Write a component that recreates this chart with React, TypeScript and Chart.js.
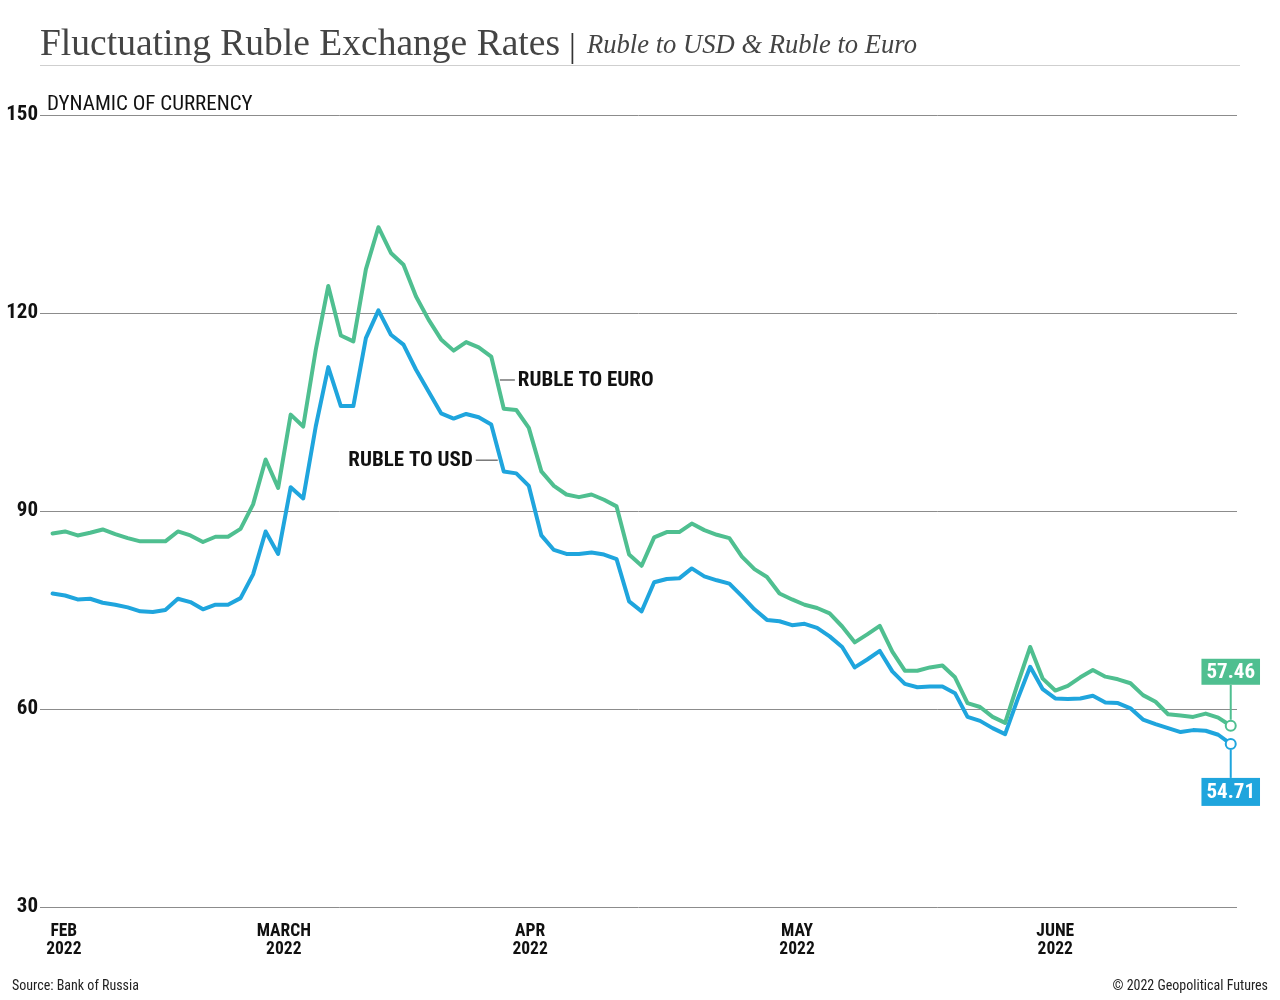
import React, { useEffect, useRef } from 'react';
import { Chart, registerables } from 'chart.js';
Chart.register(...registerables);

// Ruble per Euro (trading days, Feb 2022 -> late June 2022)
const rubleToEuro: number[] = [
  86.6, 86.9, 86.3, 86.7, 87.2, 86.5, 85.9, 85.4, 85.4, 85.4,
  86.9, 86.3, 85.3, 86.1, 86.1, 87.3, 91.0, 97.8, 93.5, 104.6,
  102.8, 114.4, 124.1, 116.6, 115.7, 126.6, 133.0, 129.1, 127.3, 122.5,
  119.0, 116.0, 114.3, 115.6, 114.8, 113.4, 105.5, 105.3, 102.6, 96.0,
  93.8, 92.5, 92.1, 92.5, 91.7, 90.7, 83.4, 81.7, 86.0, 86.8,
  86.8, 88.1, 87.1, 86.4, 85.9, 83.1, 81.2, 80.0, 77.5, 76.6,
  75.8, 75.3, 74.5, 72.5, 70.1, 71.3, 72.6, 68.7, 65.8, 65.8,
  66.3, 66.6, 64.8, 60.9, 60.3, 58.8, 57.9, 63.8, 69.4, 64.6,
  62.8, 63.5, 64.8, 65.9, 64.9, 64.5, 63.9, 62.1, 61.1, 59.2,
  59.0, 58.8, 59.3, 58.7, 57.46,
];

// Ruble per USD
const rubleToUsd: number[] = [
  77.5, 77.2, 76.6, 76.7, 76.1, 75.8, 75.4, 74.8, 74.7, 75.0,
  76.7, 76.2, 75.1, 75.8, 75.8, 76.8, 80.4, 86.9, 83.5, 93.6,
  91.9, 102.8, 111.8, 105.9, 105.9, 116.2, 120.4, 116.7, 115.2, 111.4,
  108.1, 104.8, 104.0, 104.7, 104.2, 103.1, 96.0, 95.7, 93.8, 86.3,
  84.1, 83.5, 83.5, 83.7, 83.4, 82.7, 76.3, 74.8, 79.2, 79.7,
  79.8, 81.3, 80.1, 79.5, 79.0, 77.1, 75.1, 73.5, 73.3, 72.7,
  72.9, 72.3, 71.0, 69.4, 66.3, 67.5, 68.8, 65.7, 63.8, 63.3,
  63.4, 63.4, 62.4, 58.8, 58.2, 57.1, 56.2, 61.5, 66.4, 63.0,
  61.6, 61.5, 61.6, 62.0, 61.0, 60.9, 60.1, 58.4, 57.7, 57.1,
  56.5, 56.8, 56.7, 56.1, 54.71,
];

// Month tick positions (in trading-day index units) and labels
const monthTickIndex: number[] = [0.9, 18.45, 38.1, 59.4, 80.0];
const monthTickLabels: string[][] = [
  ['FEB', '2022'],
  ['MARCH', '2022'],
  ['APR', '2022'],
  ['MAY', '2022'],
  ['JUNE', '2022'],
];
const yTickValues: number[] = [30, 60, 90, 120, 150];

const GREEN = '#4fbf90';
const BLUE = '#1fa5dd';
const COND = "'Roboto Condensed', 'Liberation Sans Narrow', 'DejaVu Sans Condensed', 'Arial Narrow', Roboto, sans-serif";
const SERIF = "'Liberation Serif', 'DejaVu Serif', serif";

const decorPlugin = {
  id: 'decor',
  afterDatasetsDraw(chart: any) {
    const ctx: CanvasRenderingContext2D = chart.ctx;
    const xs = chart.scales.x;
    const ys = chart.scales.y;
    ctx.save();

    // series labels with leader lines
    ctx.strokeStyle = '#555';
    ctx.lineWidth = 1.2;
    ctx.fillStyle = '#111';
    ctx.font = `bold 21px ${COND}`;
    ctx.textBaseline = 'middle';

    const ex = xs.getPixelForValue(35.45);
    const ey = ys.getPixelForValue(109.85);
    ctx.beginPath();
    ctx.moveTo(ex + 3, ey);
    ctx.lineTo(ex + 18, ey);
    ctx.stroke();
    ctx.textAlign = 'left';
    ctx.fillText('RUBLE TO EURO', ex + 21, ey + 1);

    const ux = xs.getPixelForValue(35.76);
    const uy = ys.getPixelForValue(97.7);
    ctx.beginPath();
    ctx.moveTo(ux - 3, uy);
    ctx.lineTo(ux - 25, uy);
    ctx.stroke();
    ctx.textAlign = 'right';
    ctx.fillText('RUBLE TO USD', ux - 28, uy + 1);

    // end value callouts
    const last = rubleToEuro.length - 1;
    const lx = xs.getPixelForValue(last);
    const gy = ys.getPixelForValue(rubleToEuro[last]);
    const by = ys.getPixelForValue(rubleToUsd[last]);
    ctx.font = `bold 21px ${COND}`;
    ctx.textAlign = 'center';
    ctx.textBaseline = 'middle';
    ctx.lineWidth = 2;

    // green (above)
    const gText = rubleToEuro[last].toFixed(2);
    const gW = ctx.measureText(gText).width + 10;
    ctx.strokeStyle = GREEN;
    ctx.beginPath();
    ctx.moveTo(lx, gy - 6);
    ctx.lineTo(lx, gy - 41);
    ctx.stroke();
    ctx.fillStyle = GREEN;
    ctx.fillRect(lx - gW / 2, gy - 41 - 26, gW, 26);
    ctx.fillStyle = '#fff';
    ctx.fillText(gText, lx, gy - 41 - 12);

    // blue (below)
    const bText = rubleToUsd[last].toFixed(2);
    const bW = ctx.measureText(bText).width + 10;
    ctx.strokeStyle = BLUE;
    ctx.beginPath();
    ctx.moveTo(lx, by + 6);
    ctx.lineTo(lx, by + 34);
    ctx.stroke();
    ctx.fillStyle = BLUE;
    ctx.fillRect(lx - bW / 2, by + 34, bW, 28);
    ctx.fillStyle = '#fff';
    ctx.fillText(bText, lx, by + 34 + 15);

    ctx.restore();
  },
  afterDraw(chart: any) {
    const ctx: CanvasRenderingContext2D = chart.ctx;
    ctx.save();
    // title
    ctx.textBaseline = 'alphabetic';
    ctx.textAlign = 'left';
    ctx.fillStyle = '#444';
    const title = 'Fluctuating Ruble Exchange Rates';
    ctx.font = `37px ${SERIF}`;
    const tw = ctx.measureText(title).width;
    ctx.save();
    ctx.translate(40, 55);
    ctx.scale(520 / tw, 1);
    ctx.fillText(title, 0, 0);
    ctx.restore();
    ctx.fillStyle = '#333';
    ctx.font = `34px ${SERIF}`;
    ctx.fillText('|', 569, 57);
    ctx.fillStyle = '#444';
    const sub = 'Ruble to USD & Ruble to Euro';
    ctx.font = `italic 28px ${SERIF}`;
    const sw = ctx.measureText(sub).width;
    ctx.save();
    ctx.translate(587, 53);
    ctx.scale(330 / sw, 1);
    ctx.fillText(sub, 0, 0);
    ctx.restore();

    // rule under title
    ctx.strokeStyle = '#cfcfcf';
    ctx.lineWidth = 1;
    ctx.beginPath();
    ctx.moveTo(40, 65.5);
    ctx.lineTo(1240, 65.5);
    ctx.stroke();

    // axis caption
    ctx.fillStyle = '#111';
    ctx.font = `21px ${COND}`;
    ctx.fillText('DYNAMIC OF CURRENCY', 47, 110);

    // footer
    ctx.font = `14px ${COND}`;
    ctx.fillStyle = '#222';
    ctx.fillText('Source: Bank of Russia', 12, 990);
    ctx.textAlign = 'right';
    ctx.fillText('\u00A9 2022 Geopolitical Futures', 1268, 990);
    ctx.restore();
  },
};

export default function App() {
  const ref = useRef<HTMLCanvasElement | null>(null);

  useEffect(() => {
    if (!ref.current) return;
    const last = rubleToEuro.length - 1;
    const pr = (c: any) => (c.dataIndex === last ? 5 : 0);
    const chart = new Chart(ref.current, {
      type: 'line',
      data: {
        datasets: [
          {
            label: 'Ruble to Euro',
            data: rubleToEuro.map((v, i) => ({ x: i, y: v })),
            borderColor: GREEN,
            borderWidth: 4,
            pointRadius: pr,
            pointHoverRadius: pr,
            pointBackgroundColor: '#fff',
            pointBorderColor: GREEN,
            pointBorderWidth: 2,
            tension: 0,
            fill: false,
          },
          {
            label: 'Ruble to USD',
            data: rubleToUsd.map((v, i) => ({ x: i, y: v })),
            borderColor: BLUE,
            borderWidth: 4,
            pointRadius: pr,
            pointHoverRadius: pr,
            pointBackgroundColor: '#fff',
            pointBorderColor: BLUE,
            pointBorderWidth: 2,
            tension: 0,
            fill: false,
          },
        ],
      },
      options: {
        animation: false,
        responsive: false,
        devicePixelRatio: 1,
        layout: { padding: { left: 0, right: 43, top: 115, bottom: 30 } },
        plugins: {
          legend: { display: false },
          tooltip: { enabled: false },
          title: { display: false },
        },
        elements: { line: { borderJoinStyle: 'round', borderCapStyle: 'round' } },
        scales: {
          x: {
            type: 'linear',
            min: -1,
            max: 94.5,
            afterFit: (s: any) => {
              s.height = 63;
            },
            afterBuildTicks: (s: any) => {
              s.ticks = monthTickIndex.map((v) => ({ value: v }));
            },
            ticks: {
              autoSkip: false,
              maxRotation: 0,
              padding: 16,
              color: '#111',
              font: { family: COND, size: 17.5, weight: 'bold', lineHeight: 1.03 },
              callback: (v: any) => {
                const k = monthTickIndex.indexOf(Number(v));
                return k >= 0 ? monthTickLabels[k] : '';
              },
            },
            grid: { display: false, drawTicks: false },
            border: { display: false },
          },
          y: {
            min: 30,
            max: 150,
            afterFit: (s: any) => {
              s.width = 40;
            },
            afterBuildTicks: (s: any) => {
              s.ticks = yTickValues.map((v) => ({ value: v }));
            },
            ticks: {
              padding: 2,
              color: '#111',
              font: { family: COND, size: 21, weight: 'bold' },
            },
            grid: { color: '#8c8c8c', lineWidth: 1, drawTicks: false },
            border: { display: false },
          },
        },
      },
      plugins: [decorPlugin],
    } as any);
    return () => chart.destroy();
  }, []);

  return (
    <div style={{ position: 'absolute', left: 0, top: 0, width: 1280, height: 1000, background: '#fff' }}>
      <canvas ref={ref} width={1280} height={1000} style={{ width: 1280, height: 1000, display: 'block' }} />
    </div>
  );
}
